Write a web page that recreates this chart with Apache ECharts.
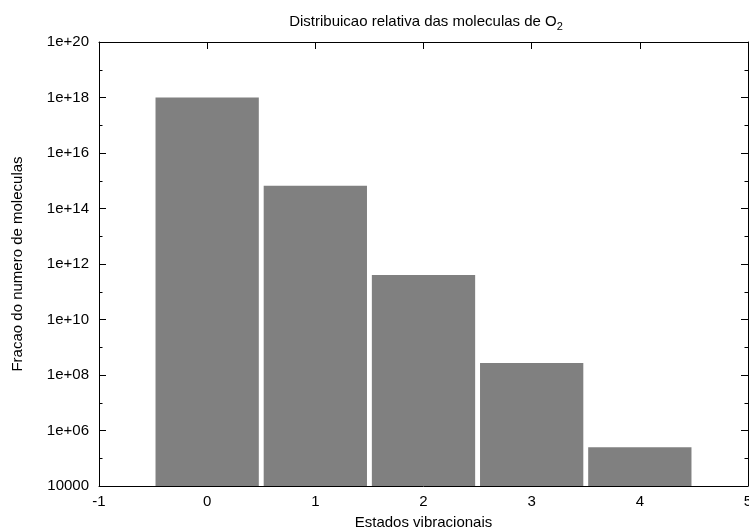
<!DOCTYPE html>
<html>
<head>
<meta charset="utf-8">
<title>Distribuicao relativa das moleculas de O2</title>
<script src="https://cdn.jsdelivr.net/npm/echarts@6/dist/echarts.min.js"></script>
<style>
  html, body { margin: 0; padding: 0; background: #fff; }
  #chart { width: 749px; height: 531px; }
</style>
</head>
<body>
<div id="chart"></div>
<script>
// Vibrational states and relative number of O2 molecules in each
const states = [0, 1, 2, 3, 4];
const moleculeCounts = [1.0e18, 6.6e14, 4.0e11, 2.7e8, 2.5e5];

// Axis ranges
const xRange = [-1, 5];
const yRange = [1e4, 1e20];

const boxWidth = 0.955;
const FONT = '"Liberation Sans", Arial, Helvetica, sans-serif';
const FS_TICK = 15;
const FS_TEXT = 15;

function logLabel(v) {
  const e = Math.round(Math.log10(v));
  if (e === 4) return '10000';
  return '1e+' + String(e).padStart(2, '0');
}

const chart = echarts.init(document.getElementById('chart'), null, { renderer: 'canvas' });

const lineStyle = { color: '#000', width: 1 };

const baseX = {
  type: 'value', min: xRange[0], max: xRange[1], interval: 1,
  splitLine: { show: false }, z: 5
};
const baseY = {
  type: 'log', logBase: 10, min: yRange[0], max: yRange[1],
  splitLine: { show: false }, z: 5
};

chart.setOption({
  animation: false,
  backgroundColor: '#fff',
  title: {
    text: '{t|Distribuicao relativa das moleculas de O}{s|2}',
    left: 421, top: 9, textAlign: 'center',
    textStyle: {
      fontWeight: 'normal',
      rich: {
        t: { fontFamily: FONT, fontSize: FS_TEXT, fontWeight: 'normal', color: '#000', lineHeight: 16 },
        s: { fontFamily: FONT, fontSize: 11, fontWeight: 'normal', color: '#000', padding: [10, 0, 0, 0], lineHeight: 16 }
      }
    }
  },
  grid: { left: 99, right: 1, top: 42, bottom: 45, containLabel: false, outerBoundsMode: 'none' },
  xAxis: [
    Object.assign({}, baseX, {
      position: 'bottom',
      axisLine: { show: true, onZero: false, lineStyle },
      axisTick: { show: false },
      axisLabel: { show: true, color: '#000', fontFamily: FONT, fontSize: FS_TICK, margin: 8 },
      name: 'Estados vibracionais', nameLocation: 'middle', nameGap: 29,
      nameTextStyle: { color: '#000', fontFamily: FONT, fontSize: FS_TEXT }
    }),
    Object.assign({}, baseX, {
      position: 'top',
      axisLine: { show: true, onZero: false, lineStyle },
      axisTick: { show: true, inside: true, length: 7, lineStyle },
      axisLabel: { show: false }
    })
  ],
  yAxis: [
    Object.assign({}, baseY, {
      position: 'left', interval: 2,
      axisLine: { show: true, onZero: false, lineStyle },
      axisTick: { show: true, inside: true, length: 7, lineStyle },
      axisLabel: { show: true, color: '#000', fontFamily: FONT, fontSize: FS_TICK, margin: 10, formatter: logLabel },
      name: 'Fracao do numero de moleculas', nameLocation: 'middle', nameGap: 74,
      nameTextStyle: { color: '#000', fontFamily: FONT, fontSize: FS_TEXT }
    }),
    Object.assign({}, baseY, {
      position: 'left', interval: 1,
      axisLine: { show: false, onZero: false },
      axisTick: { show: true, inside: true, length: 3.5, lineStyle },
      axisLabel: { show: false }
    }),
    Object.assign({}, baseY, {
      position: 'right', interval: 2,
      axisLine: { show: true, onZero: false, lineStyle },
      axisTick: { show: true, inside: true, length: 7, lineStyle },
      axisLabel: { show: false }
    }),
    Object.assign({}, baseY, {
      position: 'right', interval: 1,
      axisLine: { show: false, onZero: false },
      axisTick: { show: true, inside: true, length: 3.5, lineStyle },
      axisLabel: { show: false }
    })
  ],
  series: [{
    type: 'custom',
    xAxisIndex: 0,
    yAxisIndex: 0,
    z: 2,
    data: states.map((s, i) => [s, moleculeCounts[i]]),
    renderItem: function (params, api) {
      const x = api.value(0);
      const y = api.value(1);
      const p0 = api.coord([x - boxWidth / 2, y]);
      const p1 = api.coord([x + boxWidth / 2, yRange[0]]);
      return {
        type: 'rect',
        shape: { x: p0[0], y: p0[1], width: p1[0] - p0[0], height: p1[1] - p0[1] },
        style: { fill: '#808080' }
      };
    }
  }]
});
</script>
</body>
</html>
